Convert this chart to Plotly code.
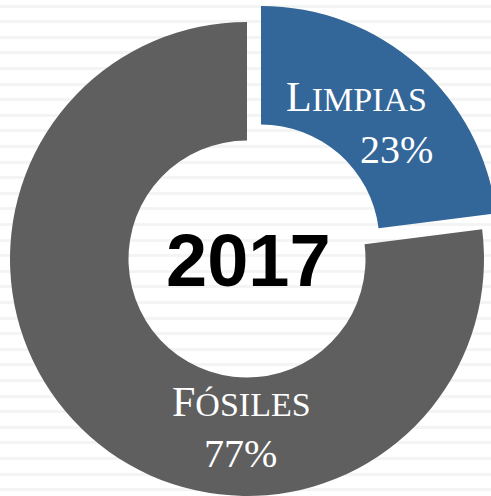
import plotly.graph_objects as go

# ---- data ----
labels = ["Limpias", "Fósiles"]
values = [23, 77]
colors = ["#336699", "#5f5f5f"]
center_title = "2017"

total = sum(values)
pcts = [round(v / total * 100) for v in values]

W, H = 505, 496
TRANSPARENT = "rgba(0,0,0,0)"


def small_caps(word, small=34):
    return f"{word[0].upper()}<span style='font-size:{small}px'>{word[1:].upper()}</span>"


def dom_x(x0, x1):
    return [x0 / W, x1 / W]


def dom_y(top, bottom):
    return [(H - bottom) / H, (H - top) / H]


fig = go.Figure()

# invisible cartesian trace so the striped background axis is drawn
fig.add_trace(go.Scatter(x=[None], y=[None], mode="markers", showlegend=False, hoverinfo="skip"))

# main ring (fossil slice), blue slice left transparent
fig.add_trace(go.Pie(
    labels=labels, values=values, sort=False, direction="clockwise", rotation=0,
    hole=0.5, textinfo="none", hoverinfo="skip", showlegend=False,
    marker=dict(colors=[TRANSPARENT, colors[1]], line=dict(width=0)),
    domain=dict(x=dom_x(10, 484), y=dom_y(22, 496)),
))
# pulled-out clean slice
fig.add_trace(go.Pie(
    labels=labels, values=values, sort=False, direction="clockwise", rotation=0,
    hole=0.5, textinfo="none", hoverinfo="skip", showlegend=False,
    marker=dict(colors=[colors[0], TRANSPARENT], line=dict(width=0)),
    domain=dict(x=dom_x(24, 498), y=dom_y(6, 480)),
))

serif = "Liberation Serif, Times New Roman, serif"
ann = [
    dict(x=429, y=97, xanchor="right", yanchor="middle", size=42, text=small_caps(labels[0])),
    dict(x=435, y=149, xanchor="right", yanchor="middle", size=40, text=f"{pcts[0]}%"),
    dict(x=241, y=402, xanchor="center", yanchor="middle", size=42, text=small_caps(labels[1])),
    dict(x=240, y=453, xanchor="center", yanchor="middle", size=40, text=f"{pcts[1]}%"),
]
for a in ann:
    size = a.pop("size")
    fig.add_annotation(xref="x", yref="y", showarrow=False,
                       font=dict(family=serif, size=size, color="white"), **a)

fig.add_annotation(xref="x", yref="y", x=248.5, y=260.5, xanchor="center", yanchor="middle",
                   showarrow=False, text=f"<b>{center_title}</b>",
                   font=dict(family="Liberation Sans, Arial, sans-serif", size=74, color="black"))

fig.update_layout(
    width=W, height=H,
    margin=dict(l=0, r=0, t=0, b=0),
    paper_bgcolor="white", plot_bgcolor="white",
    xaxis=dict(range=[0, W], visible=False, fixedrange=True),
    yaxis=dict(range=[H, 0], showgrid=True, gridcolor="#f3f5f5", gridwidth=3,
               tick0=6, dtick=15.6, showticklabels=False, ticks="", zeroline=False,
               showline=False, fixedrange=True),
)

fig.write_html("out.html", config={"displayModeBar": False},
               post_script="document.body.style.margin='0';document.body.style.overflow='hidden';")
